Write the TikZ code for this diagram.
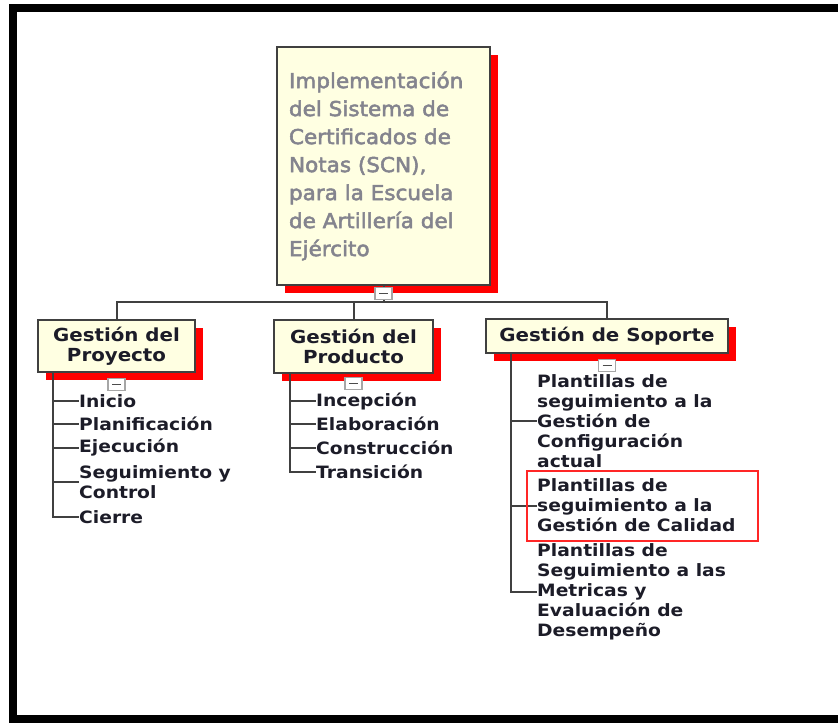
\documentclass[tikz,border=0pt]{standalone}
\usepackage{fontspec}
\newfontfamily\rootfont{DejaVu Sans}[FakeStretch=1.05, FakeBold=2.5]
\newfontfamily\wbsfont{DejaVu Sans}[FakeStretch=1.1]
\usetikzlibrary{shadows, calc}
\definecolor{wbsfill}{RGB}{255,255,226}
\definecolor{wbsline}{RGB}{64,64,64}
\definecolor{wbsgray}{RGB}{132,132,142}
\definecolor{wbstext}{RGB}{28,28,40}

\begin{document}
\begin{tikzpicture}[x=1pt, y=-1pt,
    wbsbox/.style={draw=wbsline, line width=1.8pt, fill=wbsfill, inner sep=0pt, align=center,
      general shadow={fill=red, shadow xshift=8pt, shadow yshift=-8pt},
      font=\wbsfont\bfseries\fontsize{18}{20}\selectfont, text=wbstext},
    leaf/.style={anchor=west, align=left, inner sep=0pt, font=\wbsfont\bfseries\fontsize{17}{20}\selectfont, text=wbstext},
    tree/.style={draw=wbsline, line width=2pt},
    toggle/.style={draw=gray!70, line width=1.4pt, fill=white, minimum width=17pt, minimum height=12pt, inner sep=0pt, anchor=north,
      path picture={\draw[gray!60!black, line width=1.6pt] ([xshift=-4.5pt]path picture bounding box.center) -- ([xshift=4.5pt]path picture bounding box.center);}},
    hilite/.style={draw=red!85, line width=1.2pt}
  ]
  \useasboundingbox (0,0) rectangle (838,724);
  % outer frame
  \draw[line width=8pt] (12.5,7.5) rectangle (846,718.5);

  \node[wbsbox, minimum width=213pt, minimum height=238pt, align=left, text width=189pt,
    font=\rootfont\fontsize{20.5}{28}\selectfont, text=wbsgray] (root) at (383.5,166)
    {Implementación\\del Sistema de\\Certificados de\\Notas (SCN),\\para la Escuela\\de Artillería del\\Ejército};
  \node[wbsbox, minimum width=157pt, minimum height=52pt] (proyecto) at (116.5,346) {Gestión del\\Proyecto};
  \node[wbsbox, minimum width=159pt, minimum height=53pt] (producto) at (353.5,346.5) {Gestión del\\Producto};
  \node[wbsbox, minimum width=242pt, minimum height=34pt] (soporte) at (607,336) {Gestión de Soporte};

  % leaves
  \node[leaf] (inicio) at (79,401) {Inicio};
  \node[leaf] (planif) at (79,424) {Planificación};
  \node[leaf] (ejec)   at (79,448) {Ejecución};
  \node[leaf] (seguim) at (79,482) {Seguimiento y\\Control};
  \node[leaf] (cierre) at (79,517) {Cierre};

  \node[leaf] (incep)  at (316,401) {Incepción};
  \node[leaf] (elab)   at (316,424) {Elaboración};
  \node[leaf] (constr) at (316,448) {Construcción};
  \node[leaf] (trans)  at (316,472) {Transición};

  \node[leaf] (configur) at (537,421) {Plantillas de\\seguimiento a la\\Gestión de\\Configuración\\actual};
  \node[leaf] (calidad)  at (537,505.5) {Plantillas de\\seguimiento a la\\Gestión de Calidad};
  \node[leaf] (metricas) at (537,591.5) {Plantillas de\\Seguimiento a las\\Metricas y\\Evaluación de\\Desempeño};

  % top level connectors
  \coordinate (bus) at ($(root.south)+(0,16)$);
  \draw[tree] (root.south) -- (bus);
  \draw[tree] (proyecto.north) |- (bus) -| (soporte.north);
  \draw[tree] (producto.north) -- (producto.north |- bus);

  % trunks
  \coordinate (ptrunk) at ($(proyecto.south west)+(16,0)$);
  \coordinate (dtrunk) at ($(producto.south west)+(17,0)$);
  \coordinate (strunk) at ($(soporte.south west)+(26,0)$);
  \draw[tree] (ptrunk) |- (cierre.west);
  \foreach \leafname in {inicio, planif, ejec, seguim}
    \draw[tree] (ptrunk |- \leafname.west) -- (\leafname.west);
  \draw[tree] (dtrunk) |- (trans.west);
  \foreach \leafname in {incep, elab, constr}
    \draw[tree] (dtrunk |- \leafname.west) -- (\leafname.west);
  \draw[tree] (strunk) |- (metricas.west);
  \foreach \leafname in {configur, calidad}
    \draw[tree] (strunk |- \leafname.west) -- (\leafname.west);

  % collapse toggles
  \node[toggle] (roottoggle) at ($(root.south)+(0,1)$) {};
  \node[toggle] (proytoggle) at ($(proyecto.south)+(0,5)$) {};
  \node[toggle] (prodtoggle) at ($(producto.south)+(0,3)$) {};
  \node[toggle] (soptoggle)  at ($(soporte.south)+(0,5)$) {};

  \draw[hilite] (527,471) rectangle (758,541);
\end{tikzpicture}
\end{document}
